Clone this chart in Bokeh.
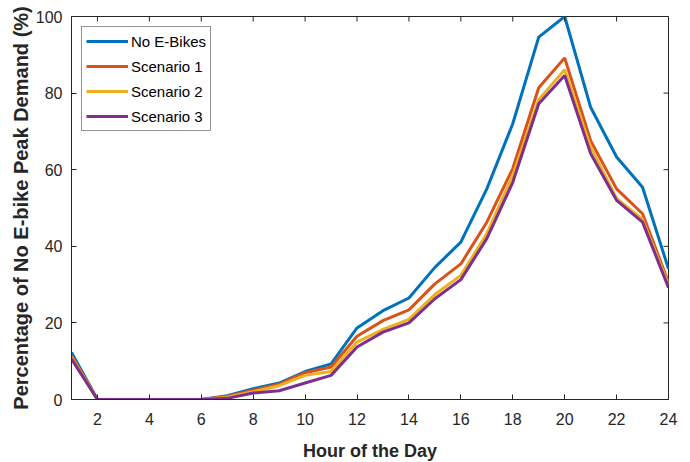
import math
from bokeh.plotting import figure
from bokeh.models import FixedTicker, Range1d, Legend, LegendItem
from bokeh.embed import file_html
from bokeh.resources import INLINE

hours = list(range(1, 25))
no_ebikes = [12.3, 0, 0, 0, 0, 0, 1.0, 2.8, 4.3, 7.3, 9.3, 18.7, 23.2, 26.5, 34.5, 41.1, 55.0, 72.0, 94.6, 100.0, 76.3, 63.3, 55.4, 34.1]
scenario1 = [11.5, 0, 0, 0, 0, 0, 0.8, 2.4, 4.0, 7.0, 8.5, 16.5, 20.6, 23.4, 30.2, 35.4, 46.3, 60.3, 81.4, 89.2, 67.6, 55.0, 48.5, 30.6]
scenario2 = [11.0, 0, 0, 0, 0, 0, 0.6, 2.0, 3.6, 6.3, 7.3, 15.0, 18.3, 20.9, 27.4, 32.4, 43.3, 58.5, 78.3, 86.1, 65.9, 52.5, 47.0, 30.0]
scenario3 = [10.6, 0, 0, 0, 0, 0, 0.3, 1.7, 2.3, 4.3, 6.3, 13.7, 17.6, 20.0, 26.3, 31.3, 42.0, 56.7, 77.2, 84.6, 64.2, 52.0, 46.3, 29.2]
series_names = ["No E-Bikes", "Scenario 1", "Scenario 2", "Scenario 3"]
colors = ["#0072BD", "#D95319", "#EDB120", "#7E2F8E"]
x_ticks = list(range(2, 25, 2))
y_ticks = list(range(0, 101, 20))
x_min, x_max = 1, 24
y_min, y_max = 0, 100

FONT = "Liberation Sans"
AX = "#262626"

p = figure(frame_width=597, frame_height=383, output_backend="svg", toolbar_location=None,
           x_range=Range1d(x_min, x_max), y_range=Range1d(y_min, y_max),
           min_border_left=71, min_border_right=14, min_border_top=16, min_border_bottom=50,
           x_axis_label="Hour of the Day", y_axis_label="Percentage of No E-bike Peak Demand (%)")
p.grid.visible = False
p.outline_line_color = AX
p.background_fill_color = "white"

items = []
for name, vals, c in zip(series_names, [no_ebikes, scenario1, scenario2, scenario3], colors):
    r = p.line(hours, vals, line_color=c, line_width=3)
    items.append(LegendItem(label=name, renderers=[r]))

# inward ticks on the top and right edges of the box
p.ray(x=x_ticks, y=[y_max] * len(x_ticks), length=5, length_units="screen",
      angle=-math.pi / 2, line_color=AX, line_width=1)
p.ray(x=[x_max] * len(y_ticks), y=y_ticks, length=5, length_units="screen",
      angle=math.pi, line_color=AX, line_width=1)

for ax in [p.xaxis[0], p.yaxis[0]]:
    ax.major_tick_in = 5
    ax.major_tick_out = 0
    ax.minor_tick_line_color = None
    ax.axis_line_color = AX
    ax.major_tick_line_color = AX
    ax.major_label_text_font = FONT
    ax.major_label_text_font_size = "16px"
    ax.major_label_text_color = AX
    ax.axis_label_text_font = FONT
    ax.axis_label_text_font_style = "bold"
    ax.axis_label_text_color = AX
p.xaxis[0].axis_label_text_font_size = "18px"
p.yaxis[0].axis_label_text_font_size = "20px"
p.xaxis[0].ticker = FixedTicker(ticks=x_ticks)
p.yaxis[0].ticker = FixedTicker(ticks=y_ticks)
p.xaxis[0].major_label_standoff = 13
p.xaxis[0].axis_label_standoff = 13
p.yaxis[0].major_label_standoff = 9
p.yaxis[0].axis_label_standoff = 1

legend = Legend(items=items, location="top_left")
legend.margin = 10
legend.label_text_font = FONT
legend.label_text_font_size = "15px"
legend.label_text_color = "black"
legend.glyph_width = 42
legend.glyph_height = 20
legend.spacing = 5
legend.padding = 4
legend.label_standoff = 3
legend.border_line_color = AX
legend.border_line_width = 1
p.add_layout(legend)

open("out.html", "w").write(file_html(p, INLINE))
